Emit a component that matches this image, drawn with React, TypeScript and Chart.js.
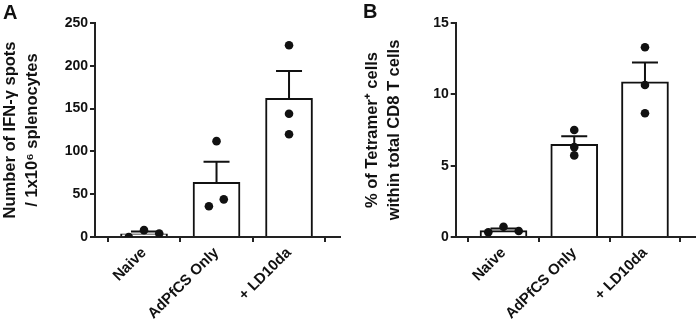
import React, { useEffect, useRef } from "react";
import { Chart, registerables } from "chart.js";

Chart.register(...registerables);

// ---- data ----
const categories = ["Naive", "AdPfCS Only", "+ LD10da"];

// Panel A: IFN-gamma spots / 1x10^6 splenocytes
const ifnMean = [3.8, 64, 162];
const ifnSem = [2.7, 24, 32];
const ifnPoints = [
  [0, 8, 4],
  [112, 36, 44],
  [224, 144, 120],
];
const ifnJitter = [
  [-0.21, 0, 0.21],
  [0, -0.105, 0.1],
  [0, 0, 0],
];
const ifnTicks = { max: 250, step: 50 };

// Panel B: % Tetramer+ cells within total CD8 T cells
const tetMean = [0.45, 6.5, 10.87];
const tetSem = [0.15, 0.57, 1.36];
const tetPoints = [
  [0.33, 0.72, 0.42],
  [7.5, 6.3, 5.72],
  [13.3, 10.65, 8.67],
];
const tetJitter = [
  [-0.215, 0, 0.215],
  [0, 0, 0],
  [0, 0, 0],
];
const tetTicks = { max: 15, step: 5 };

const FONT = "'Liberation Sans', Arial, Helvetica, sans-serif";
const INK = "#111";
const AXIS = "#222";

type PanelProps = {
  letter: string;
  letterX: number;
  letterY: number;
  title: string[];
  means: number[];
  sems: number[];
  points: number[][];
  jitter: number[][];
  yMax: number;
  yStep: number;
  width: number;
  padLeft: number;
  padRight: number;
  yWidth: number;
};

function Panel(p: PanelProps) {
  const ref = useRef<HTMLCanvasElement | null>(null);
  useEffect(() => {
    if (!ref.current) return;
    const scatter: { x: number; y: number }[] = [];
    p.points.forEach((grp, i) =>
      grp.forEach((v, j) => scatter.push({ x: i + p.jitter[i][j], y: v }))
    );

    const errorBars = {
      id: "errorBars" + p.letter,
      afterDatasetDraw(chart: any, args: any) {
        if (args.index !== 0) return;
        const ctx = chart.ctx;
        const xs = chart.scales.x;
        const ys = chart.scales.y;
        ctx.save();
        ctx.strokeStyle = INK;
        ctx.lineWidth = 2;
        p.means.forEach((m, i) => {
          const cx = xs.getPixelForValue(i);
          const y0 = ys.getPixelForValue(m);
          const y1 = ys.getPixelForValue(m + p.sems[i]);
          ctx.beginPath();
          ctx.moveTo(cx, y0);
          ctx.lineTo(cx, y1);
          ctx.moveTo(cx - 13, y1);
          ctx.lineTo(cx + 13, y1);
          ctx.stroke();
        });
        ctx.restore();
      },
    };

    const letterPlugin = {
      id: "letter" + p.letter,
      afterDraw(chart: any) {
        const ctx = chart.ctx;
        ctx.save();
        ctx.fillStyle = INK;
        ctx.font = `bold 20px ${FONT}`;
        ctx.textBaseline = "alphabetic";
        ctx.textAlign = "left";
        ctx.fillText(p.letter, p.letterX, p.letterY);
        ctx.restore();
      },
    };

    const chart = new Chart(ref.current, {
      type: "bar",
      data: {
        datasets: [
          {
            type: "bar",
            data: p.means.map((m, i) => ({ x: i, y: m })) as any,
            backgroundColor: "#fff",
            borderColor: INK,
            borderWidth: 2,
            barThickness: 47,
            order: 2,
          },
          {
            type: "scatter",
            data: scatter as any,
            pointRadius: 4.3,
            pointBackgroundColor: INK,
            pointBorderWidth: 0,
            showLine: false,
            order: 1,
          } as any,
        ],
      },
      options: {
        animation: false,
        responsive: false,
        maintainAspectRatio: false,
        layout: {
          padding: { left: p.padLeft, right: p.padRight, top: 23, bottom: 0 },
        },
        plugins: {
          legend: { display: false },
          tooltip: { enabled: false },
        },
        scales: {
          x: {
            type: "linear",
            min: -0.676,
            max: 2.703,
            offset: false,
            afterFit: (s: any) => {
              s.height = 82;
            },
            afterBuildTicks: (s: any) => {
              s.ticks = s.ticks.filter(
                (t: any) =>
                  Math.abs(t.value - Math.round(t.value)) < 1e-6 &&
                  t.value >= 0 &&
                  t.value <= categories.length - 1
              );
            },
            ticks: {
              stepSize: 1,
              autoSkip: false,
              minRotation: 45,
              maxRotation: 45,
              padding: 2,
              color: INK,
              font: { family: FONT, size: 15, weight: "bold" },
              callback: (v: any) => categories[Math.round(Number(v))] ?? "",
            },
            grid: {
              display: true,
              drawOnChartArea: false,
              drawTicks: true,
              tickLength: 5,
              color: AXIS,
              lineWidth: 2,
            },
            border: { display: true, color: AXIS, width: 2 },
          },
          y: {
            type: "linear",
            min: 0,
            max: p.yMax,
            afterFit: (s: any) => {
              s.width = p.yWidth;
            },
            ticks: {
              stepSize: p.yStep,
              padding: 2,
              color: INK,
              font: { family: FONT, size: 14, weight: "bold" },
            },
            grid: {
              display: true,
              drawOnChartArea: false,
              drawTicks: true,
              tickLength: 5,
              color: AXIS,
              lineWidth: 2,
            },
            border: { display: true, color: AXIS, width: 2 },
            title: {
              display: true,
              text: p.title,
              color: INK,
              padding: 0,
              font: { family: FONT, size: 16.5, weight: "bold", lineHeight: 1.3 },
            },
          },
        },
      },
      plugins: [errorBars, letterPlugin],
    } as any);
    return () => chart.destroy();
  }, []);
  return (
    <canvas
      ref={ref}
      width={p.width}
      height={319}
      style={{ display: "block", width: p.width, height: 319 }}
    />
  );
}

export default function App() {
  return (
    <div
      style={{
        position: "absolute",
        left: 0,
        top: 0,
        width: 699,
        height: 319,
        display: "flex",
        background: "#fff",
      }}
    >
      <Panel
        letter="A"
        letterX={3}
        letterY={19}
        title={["Number of IFN-γ spots", "/ 1x10⁶ splenocytes"]}
        means={ifnMean}
        sems={ifnSem}
        points={ifnPoints}
        jitter={ifnJitter}
        yMax={ifnTicks.max}
        yStep={ifnTicks.step}
        width={350}
        padLeft={0}
        padRight={10}
        yWidth={95}
      />
      <Panel
        letter="B"
        letterX={13}
        letterY={18}
        title={["% of Tetramer⁺ cells", "within total CD8 T cells"]}
        means={tetMean}
        sems={tetSem}
        points={tetPoints}
        jitter={tetJitter}
        yMax={tetTicks.max}
        yStep={tetTicks.step}
        width={349}
        padLeft={12}
        padRight={1}
        yWidth={93.7}
      />
    </div>
  );
}
